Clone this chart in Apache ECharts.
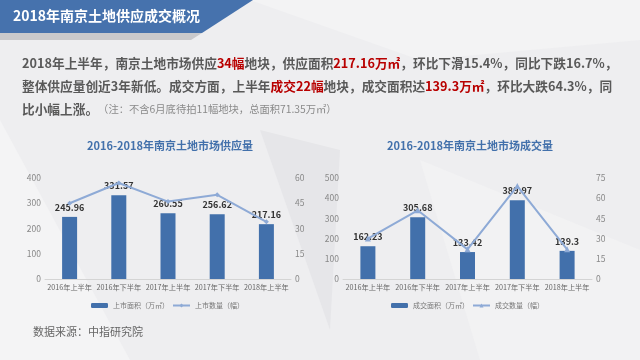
<!DOCTYPE html>
<html><head><meta charset="utf-8">
<script src="https://cdn.jsdelivr.net/npm/echarts@6/dist/echarts.min.js"></script>
<style>html,body{margin:0;padding:0;background:#eeeef0}#c{width:640px;height:360px}</style>
</head><body><div id="c"></div>
<script>
const categories = ['2016年上半年', '2016年下半年', '2017年上半年', '2017年下半年', '2018年上半年'];
const supplyArea = [245.96, 331.57, 260.55, 256.62, 217.16];
const supplyCount = [45, 57, 46, 50, 34];
const dealArea = [162.23, 305.68, 133.42, 389.97, 139.3];
const dealCount = [30, 51, 22, 69, 22];
const supplyNames = ['上市面积（万㎡）', '上市数量（幅）'];
const dealNames = ['成交面积（万㎡）', '成交数量（幅）'];
const leftTitle = '2016-2018年南京土地市场供应量';
const rightTitle = '2016-2018年南京土地市场成交量';
const headerTitle = '2018年南京土地供应成交概况';
const sourceText = '数据来源：中指研究院';
const paraLines = [
  '{n|2018年上半年，南京土地市场供应}{r|34幅}{n|地块，供应面积}{r|217.16万㎡}{n|，环比下滑15.4%，同比下跌16.7%，}',
  '{n|整体供应量创近3年新低。成交方面，上半年}{r|成交22幅}{n|地块，成交面积达}{r|139.3万㎡}{n|，环比大跌64.3%，同}',
  '{n|比小幅上涨。}{s|（注：不含6月底待拍11幅地块，总面积71.35万㎡）}'
];

const FONT = '"Noto Sans CJK SC", "Noto Sans", sans-serif';
const BAR = '#4270ab';
const LINE = '#8eaad6';

const chart = echarts.init(document.getElementById('c'), null, {renderer: 'canvas'});

function xAx(gi) {
  return {
    type: 'category', gridIndex: gi, data: categories,
    axisLine: {lineStyle: {color: '#d4d4d4'}},
    axisTick: {show: false},
    axisLabel: {interval: 0, fontSize: 7.2, color: '#666', fontFamily: FONT, margin: 5}
  };
}
function yAx(gi, max, pos) {
  return {
    type: 'value', gridIndex: gi, min: 0, max: max, interval: pos === 'left' ? 100 : 15, position: pos,
    splitLine: {show: false}, axisLine: {show: false}, axisTick: {show: false},
    axisLabel: {fontSize: 8.5, color: '#888', fontFamily: FONT, margin: 4}
  };
}
const barLabel = {show: true, position: 'top', distance: 5, fontSize: 9, fontWeight: 'bold', color: '#333', fontFamily: FONT};

const paraGraphics = paraLines.map((t, i) => ({
  type: 'text', left: 22, top: 57 + i * 23, z: 10,
  style: {
    text: t,
    rich: {
      n: {fontSize: 12.7, fontWeight: 'bold', fill: '#595959', color: '#595959', fontFamily: FONT, height: 18, verticalAlign: 'middle'},
      r: {fontSize: 12.7, fontWeight: 'bold', fill: '#b80000', color: '#b80000', fontFamily: FONT, height: 18, verticalAlign: 'middle'},
      s: {fontSize: 10.3, fontWeight: 'normal', fill: '#8a8a8a', color: '#8a8a8a', fontFamily: FONT, height: 18, verticalAlign: 'middle'}
    }
  }
}));

const legendText = {fontSize: 7, color: '#777', fontFamily: FONT};

chart.setOption({
  backgroundColor: '#eeeef0',
  animation: false,
  graphic: [
    {type: 'polygon', z: 0, shape: {points: [[0, 120], [130, 360], [0, 360]]}, style: {fill: '#f4f4f5'}},
    {type: 'polygon', z: 0, shape: {points: [[250, 0], [640, 0], [640, 40], [420, 60]]}, style: {fill: '#f3f3f4'}},
    {type: 'polygon', z: 0, shape: {points: [[260, 130], [340, 150], [330, 330]]}, style: {fill: '#e6e6e9'}},
    {type: 'polygon', z: 0, shape: {points: [[420, 160], [640, 250], [640, 360], [480, 360]]}, style: {fill: '#f2f2f3'}},
    {type: 'polygon', z: 0, shape: {points: [[0, 33], [202, 33], [191, 40], [0, 40]]}, style: {fill: '#c9c9cc'}},
    {type: 'polygon', z: 1, shape: {points: [[0, 0], [253, 0], [202, 33], [0, 33]]}, style: {fill: '#4672ad'}},
    {type: 'text', left: 13, top: 9, z: 10, style: {text: headerTitle, fill: '#ffffff', fontSize: 14, fontWeight: 'bold', fontFamily: FONT}},
    ...paraGraphics,
    {type: 'text', left: 33, top: 326, z: 10, style: {text: sourceText, fill: '#666', fontSize: 11, fontFamily: FONT}}
  ],
  title: [
    {text: leftTitle, left: 165, top: 135, textAlign: 'center', textStyle: {fontSize: 11, fontWeight: 'bold', color: '#4270ab', fontFamily: FONT}},
    {text: rightTitle, left: 465, top: 135, textAlign: 'center', textStyle: {fontSize: 11, fontWeight: 'bold', color: '#4270ab', fontFamily: FONT}}
  ],
  legend: [
    {data: supplyNames, left: 91, top: 302, padding: 0, itemWidth: 17, itemHeight: 5, itemGap: 3, textStyle: legendText},
    {data: dealNames, left: 391, top: 302, padding: 0, itemWidth: 17, itemHeight: 5, itemGap: 3, textStyle: legendText}
  ],
  grid: [
    {left: 45, top: 178, width: 246, height: 101},
    {left: 343, top: 178, width: 249, height: 101}
  ],
  xAxis: [xAx(0), xAx(1)],
  yAxis: [yAx(0, 400, 'left'), yAx(0, 60, 'right'), yAx(1, 500, 'left'), yAx(1, 75, 'right')],
  series: [
    {name: supplyNames[0], type: 'bar', xAxisIndex: 0, yAxisIndex: 0, data: supplyArea, barWidth: 15,
     itemStyle: {color: BAR}, label: barLabel, z: 2},
    {name: supplyNames[1], type: 'line', xAxisIndex: 0, yAxisIndex: 1, data: supplyCount,
     itemStyle: {color: LINE}, lineStyle: {color: LINE, width: 2}, symbol: 'diamond', symbolSize: 5, z: 3},
    {name: dealNames[0], type: 'bar', xAxisIndex: 1, yAxisIndex: 2, data: dealArea, barWidth: 15,
     itemStyle: {color: BAR}, label: barLabel, z: 2},
    {name: dealNames[1], type: 'line', xAxisIndex: 1, yAxisIndex: 3, data: dealCount,
     itemStyle: {color: LINE}, lineStyle: {color: LINE, width: 2}, symbol: 'triangle', symbolSize: 6, z: 3}
  ]
});
</script>
</body></html>
